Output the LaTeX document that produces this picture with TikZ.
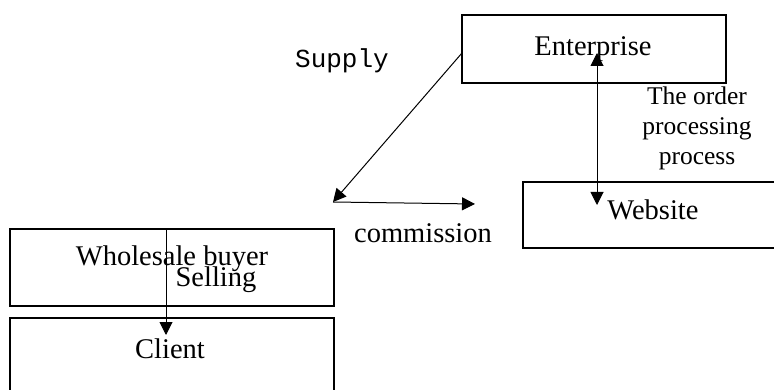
\documentclass[tikz,border=0pt]{standalone}
\usepackage{fontspec}
\setmainfont{Liberation Serif}
\setmonofont{Liberation Mono}
\usetikzlibrary{arrows.meta}
\begin{document}
\begin{tikzpicture}[x=1pt,y=-1pt,
  box/.style={draw,line width=2pt,inner sep=0pt},
  lbl/.style={inner sep=0pt,font=\fontsize{28.5}{30}\selectfont},
  arr/.style={line width=1pt,-{Triangle[length=13pt,width=13pt]}},
  darr/.style={line width=1pt,{Triangle[length=13pt,width=13pt]}-{Triangle[length=13pt,width=13pt]}}]
\useasboundingbox (0,0) rectangle (774,390);
\clip (0,0) rectangle (774,390);
% boxes
\draw[box] (462,15) rectangle (726,83);
\coordinate (entL) at (462,53);
\draw[box] (523,182) rectangle (790,248);
\draw[box] (10,229) rectangle (334,306);
\draw[box] (10,318) rectangle (334,400);
% texts
\node[lbl] (ent) at (593,49) {Enterprise};
\node[lbl] (web) at (653,210) {Website};
\node[lbl] (whb) at (172,259) {Wholesale buyer};
\node[lbl] (sel) at (216,280) {Selling};
\node[lbl] (cli) at (170,349) {Client};
\node[lbl] (com) at (423,233) {commission};
\node[inner sep=0pt,font=\ttfamily\fontsize{26}{28}\selectfont] (sup) at (342,61) {Supply};
\node[inner sep=0pt,align=center,font=\fontsize{25.5}{30}\selectfont] (ord) at (697,128) {The order\\processing\\process};
% connectors
\coordinate (mid) at (333,202);
\coordinate (comE) at (475,204);
\coordinate (eTop) at (597,53);
\coordinate (wBot) at (597,205);
\coordinate (wTop) at (166,229);
\coordinate (cTop) at (166,335);
\draw[arr] (entL) -- (mid);
\draw[arr] (mid) -- (comE);
\draw[darr] (wBot) -- (eTop);
\draw[arr] (wTop) -- (cTop);
\end{tikzpicture}
\end{document}
